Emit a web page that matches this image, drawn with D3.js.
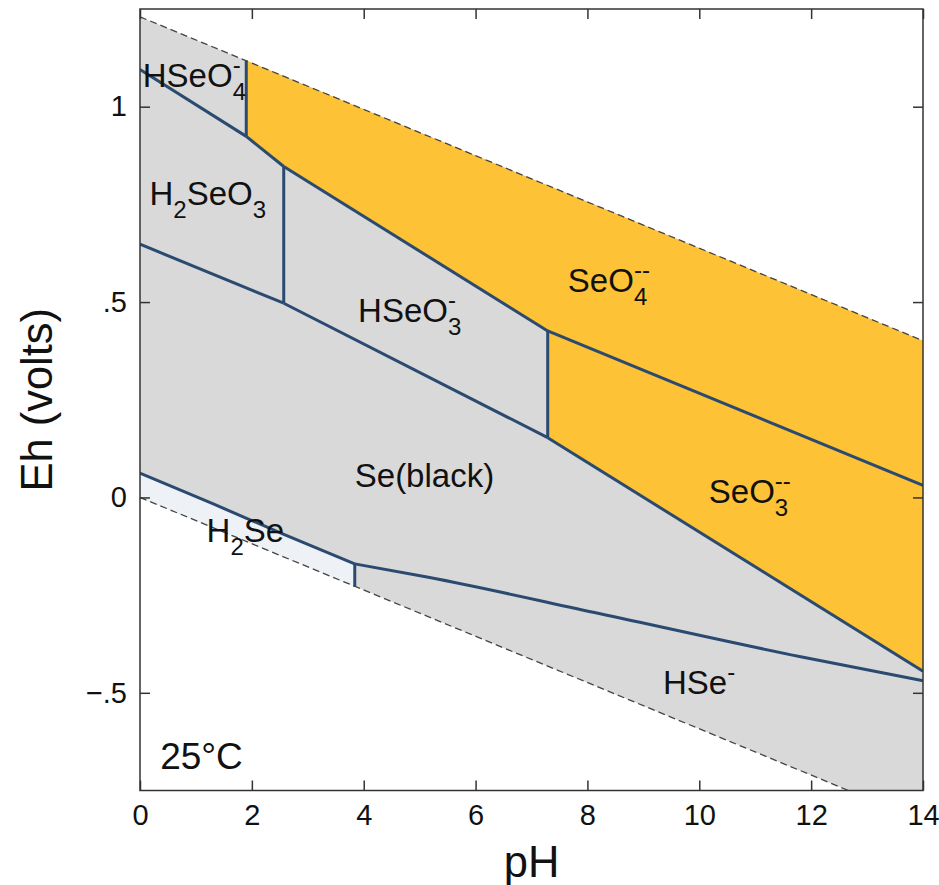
<!DOCTYPE html>
<html>
<head>
  <meta charset="utf-8">
  <title>Se Eh-pH diagram</title>
  <script src="https://cdn.jsdelivr.net/npm/d3@7"></script>
  <style>
    body { margin: 0; background: #fff; }
    text { font-family: "Liberation Sans", Arial, Helvetica, sans-serif; fill: #111; }
  </style>
</head>
<body>
<script>
  let [w, h] = [939, 885]

  // axis ticks
  const pHTicks = [0, 2, 4, 6, 8, 10, 12, 14]
  const ehTicks = [-0.5, 0, 0.5, 1]
  const ehTickLabels = ["\u2212.5", "0", ".5", "1"]

  // water stability limits [pH, Eh]
  const waterUpper = [[0, 1.23], [14, 0.401]]
  const waterLower = [[0, 0], [14, -0.829]]

  // field boundaries [pH, Eh]
  const bHSeO4_H2SeO3 = [[0, 1.095], [1.9, 0.924]]
  const bHSeO4_SeO4 = [[1.9, 0.924], [1.9, 1.118]]
  const bH2SeO3_SeO4 = [[1.9, 0.924], [2.57, 0.847]]
  const bH2SeO3_HSeO3 = [[2.57, 0.847], [2.57, 0.497]]
  const bHSeO3_SeO4 = [[2.57, 0.847], [7.29, 0.426]]
  const bSeO3_SeO4 = [[7.29, 0.426], [14, 0.031]]
  const bHSeO3_SeO3 = [[7.29, 0.426], [7.29, 0.153]]
  const bSe_H2SeO3 = [[0, 0.648], [2.57, 0.497]]
  const bSe_HSeO3 = [[2.57, 0.497], [7.29, 0.153]]
  const bSe_SeO3 = [[7.29, 0.153], [14, -0.445]]
  const bH2Se_Se = [[0, 0.062], [1.3, -0.016], [2.55, -0.093], [3.84, -0.170]]
  const bH2Se_HSe = [[3.84, -0.170], [3.84, -0.229]]
  const bHSe_Se = [[3.84, -0.170], [5.18, -0.205], [8.21, -0.297], [11.79, -0.407], [14, -0.469]]

  // species labels: parts are [text, kind]
  const labelParts = [
    [["HSeO", ""], ["4", "sub"], ["-", "sup"]],
    [["H", ""], ["2", "sub"], ["SeO", ""], ["3", "sub"]],
    [["HSeO", ""], ["3", "sub"], ["-", "sup"]],
    [["Se(black)", ""]],
    [["SeO", ""], ["4", "sub"], ["--", "sup"]],
    [["SeO", ""], ["3", "sub"], ["--", "sup"]],
    [["H", ""], ["2", "sub"], ["Se", ""]],
    [["HSe", ""], ["-", "sup"]],
    [["25°C", ""]]
  ]
  const labelPH = [0.05, 0.17, 3.9, 3.84, 7.65, 10.17, 1.19, 9.35, 0.36]
  const labelEh = [1.051, 0.748, 0.449, 0.027, 0.526, -0.015, -0.114, -0.503, -0.695]

  var margin = { left: 140, right: 16, top: 9, bottom: 94.5 }
  var x = d3.scaleLinear().domain([0, 14]).range([margin.left, w - margin.right])
  var y = d3.scaleLinear().domain([-0.75, 1.25]).range([h - margin.bottom, margin.top])

  var svg = d3.select("body")
    .append("svg")
    .attr("width", w)
    .attr("height", h)

  svg.append("clipPath").attr("id", "plotclip")
    .append("rect")
    .attr("x", x(0)).attr("y", y(1.25))
    .attr("width", x(14) - x(0)).attr("height", y(-0.75) - y(1.25))

  var plot = svg.append("g").attr("clip-path", "url(#plotclip)")

  var line = d3.line().x(d => x(d[0])).y(d => y(d[1]))
  var poly = pts => line(pts) + "Z"

  // fields
  var grayField = waterUpper.concat(waterLower.slice().reverse())
  var seo4Field = [bHSeO4_SeO4[1], waterUpper[1], bSeO3_SeO4[1], bSeO3_SeO4[0], bHSeO3_SeO4[0], bH2SeO3_SeO4[0]]
  var seo3Field = bSeO3_SeO4.concat(bSe_SeO3.slice().reverse())
  var h2seField = bH2Se_Se.concat([bH2Se_HSe[1], waterLower[0]])

  plot.append("path").attr("d", poly(grayField)).attr("fill", "#d9d9d9")
  plot.append("path").attr("d", poly(seo4Field)).attr("fill", "#fdc235")
  plot.append("path").attr("d", poly(seo3Field)).attr("fill", "#fdc235")
  plot.append("path").attr("d", poly(h2seField)).attr("fill", "#eef1f6")

  // water limits
  plot.selectAll(".water")
    .data([waterUpper, waterLower])
    .enter().append("path")
    .attr("d", line)
    .attr("fill", "none")
    .attr("stroke", "#444")
    .attr("stroke-width", 1.3)
    .attr("stroke-dasharray", "7,4")

  // boundaries
  var bounds = [bHSeO4_H2SeO3, bHSeO4_SeO4, bH2SeO3_SeO4, bH2SeO3_HSeO3, bHSeO3_SeO4, bSeO3_SeO4,
    bHSeO3_SeO3, bSe_H2SeO3, bSe_HSeO3, bSe_SeO3, bH2Se_Se, bH2Se_HSe, bHSe_Se]
  plot.selectAll(".bound")
    .data(bounds)
    .enter().append("path")
    .attr("d", line.curve(d3.curveMonotoneX))
    .attr("fill", "none")
    .attr("stroke", "#2b4a70")
    .attr("stroke-width", 3)
    .attr("stroke-linejoin", "round")
  line.curve(d3.curveLinear)

  // labels
  var mainSize = 33, subSize = 24
  labelParts.forEach(function (parts, i) {
    var cx = x(labelPH[i]), by = y(labelEh[i])
    var lastSubX = null
    var g = svg.append("g")
    var size = i === labelParts.length - 1 ? 37 : mainSize
    parts.forEach(function (p) {
      var t = g.append("text").text(p[0])
      if (p[1] === "") {
        t.attr("x", cx).attr("y", by).attr("font-size", size)
        cx += t.node().getComputedTextLength()
      } else if (p[1] === "sub") {
        t.attr("x", cx).attr("y", by + 13).attr("font-size", subSize)
        lastSubX = cx
        cx += t.node().getComputedTextLength()
      } else {
        var sx = lastSubX !== null ? lastSubX : cx
        t.attr("x", sx).attr("y", by - 14).attr("font-size", subSize)
      }
    })
  })

  // axes (inward ticks on all sides)
  var axB = svg.append("g").attr("transform", `translate(0,${y(-0.75)})`)
    .call(d3.axisBottom(x).tickValues(pHTicks).tickSizeInner(-10).tickSizeOuter(0).tickPadding(14))
  var axT = svg.append("g").attr("transform", `translate(0,${y(1.25)})`)
    .call(d3.axisTop(x).tickValues(pHTicks).tickSizeInner(-10).tickSizeOuter(0).tickFormat(""))
  var axL = svg.append("g").attr("transform", `translate(${x(0)},0)`)
    .call(d3.axisLeft(y).tickValues(ehTicks).tickSizeInner(-10).tickSizeOuter(0).tickPadding(13)
      .tickFormat((d, i) => ehTickLabels[i]))
  var axR = svg.append("g").attr("transform", `translate(${x(14)},0)`)
    .call(d3.axisRight(y).tickValues(ehTicks).tickSizeInner(-10).tickSizeOuter(0).tickFormat(""))

  svg.selectAll(".domain").remove()
  svg.selectAll(".tick line").attr("stroke", "#333").attr("stroke-width", 1.5)
  svg.selectAll(".tick text").attr("font-size", 29).attr("fill", "#111")
    .attr("font-family", "Liberation Sans, Arial, sans-serif")

  svg.append("rect")
    .attr("x", x(0)).attr("y", y(1.25))
    .attr("width", x(14) - x(0)).attr("height", y(-0.75) - y(1.25))
    .attr("fill", "none").attr("stroke", "#333").attr("stroke-width", 1.5)

  // axis titles
  svg.append("text")
    .attr("x", (x(0) + x(14)) / 2).attr("y", 877)
    .attr("text-anchor", "middle").attr("font-size", 43.5)
    .text("pH")
  svg.append("text")
    .attr("transform", `translate(52,${(y(-0.75) + y(1.25)) / 2}) rotate(-90)`)
    .attr("text-anchor", "middle").attr("font-size", 43.5)
    .text("Eh (volts)")
</script>
</body>
</html>
